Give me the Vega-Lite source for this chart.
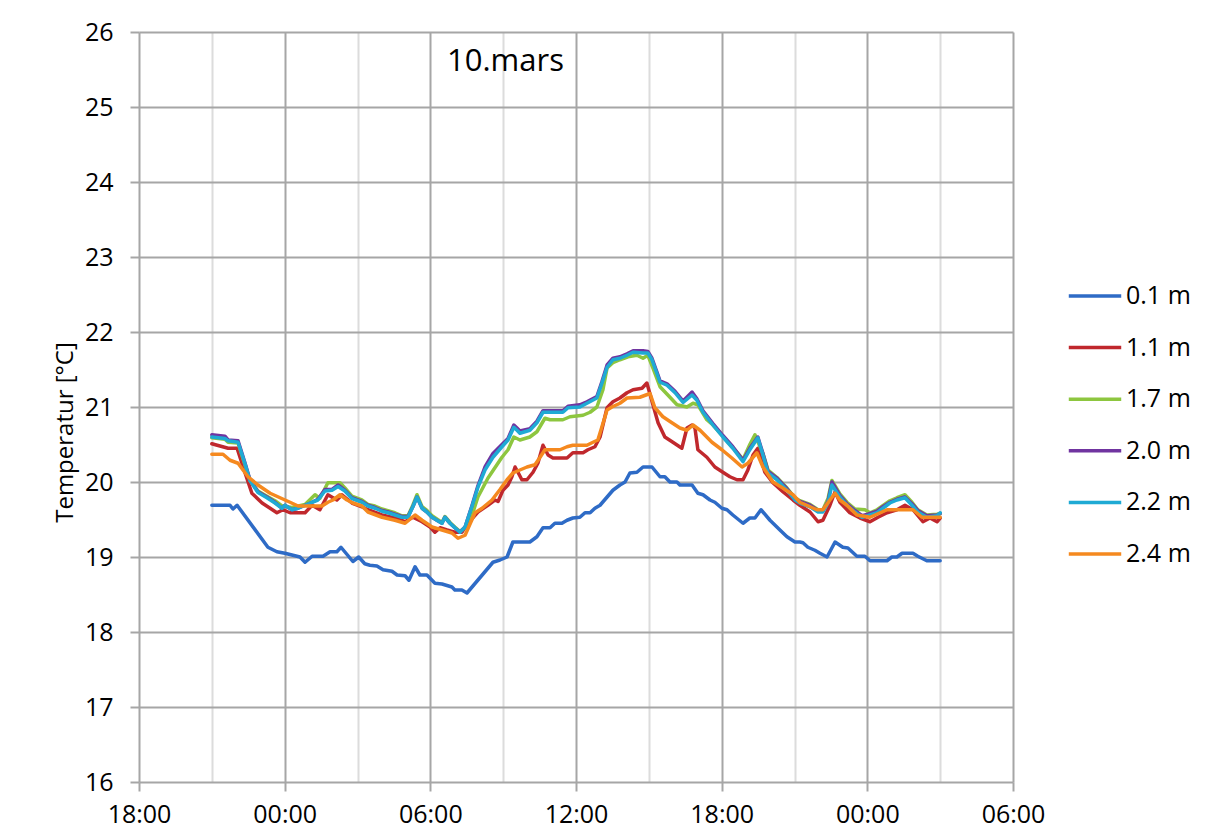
{
  "$schema": "https://vega.github.io/schema/vega-lite/v6.json",
  "width": 874,
  "height": 750,
  "autosize": {"type": "none"},
  "padding": {"left": 139, "top": 32, "right": 204, "bottom": 57},
  "background": "white",
  "config": {
    "font": "Open Sans",
    "view": {"stroke": null}
  },
  "title": {
    "text": "10.mars",
    "anchor": "start",
    "frame": "group",
    "offset": 0,
    "baseline": "alphabetic",
    "dx": 308,
    "dy": 82,
    "fontSize": 31,
    "fontWeight": "normal",
    "color": "black"
  },
  "datasets": {
    "temps": [
      {"depth": "0.1 m", "hour": 3.0, "temp": 19.69},
      {"depth": "0.1 m", "hour": 3.75, "temp": 19.69},
      {"depth": "0.1 m", "hour": 3.87, "temp": 19.64},
      {"depth": "0.1 m", "hour": 4.04, "temp": 19.69},
      {"depth": "0.1 m", "hour": 5.31, "temp": 19.13},
      {"depth": "0.1 m", "hour": 5.68, "temp": 19.07},
      {"depth": "0.1 m", "hour": 6.01, "temp": 19.05},
      {"depth": "0.1 m", "hour": 6.63, "temp": 19.0},
      {"depth": "0.1 m", "hour": 6.84, "temp": 18.93},
      {"depth": "0.1 m", "hour": 7.13, "temp": 19.01},
      {"depth": "0.1 m", "hour": 7.58, "temp": 19.01},
      {"depth": "0.1 m", "hour": 7.87, "temp": 19.07},
      {"depth": "0.1 m", "hour": 8.15, "temp": 19.07},
      {"depth": "0.1 m", "hour": 8.32, "temp": 19.13},
      {"depth": "0.1 m", "hour": 8.81, "temp": 18.94},
      {"depth": "0.1 m", "hour": 9.05, "temp": 19.0},
      {"depth": "0.1 m", "hour": 9.3, "temp": 18.91},
      {"depth": "0.1 m", "hour": 9.51, "temp": 18.89},
      {"depth": "0.1 m", "hour": 9.8, "temp": 18.88},
      {"depth": "0.1 m", "hour": 10.05, "temp": 18.83},
      {"depth": "0.1 m", "hour": 10.42, "temp": 18.81},
      {"depth": "0.1 m", "hour": 10.63, "temp": 18.76},
      {"depth": "0.1 m", "hour": 10.96, "temp": 18.75},
      {"depth": "0.1 m", "hour": 11.12, "temp": 18.69},
      {"depth": "0.1 m", "hour": 11.37, "temp": 18.87},
      {"depth": "0.1 m", "hour": 11.57, "temp": 18.76},
      {"depth": "0.1 m", "hour": 11.86, "temp": 18.76},
      {"depth": "0.1 m", "hour": 12.19, "temp": 18.65},
      {"depth": "0.1 m", "hour": 12.48, "temp": 18.64},
      {"depth": "0.1 m", "hour": 12.89, "temp": 18.6},
      {"depth": "0.1 m", "hour": 13.01, "temp": 18.56},
      {"depth": "0.1 m", "hour": 13.3, "temp": 18.56},
      {"depth": "0.1 m", "hour": 13.51, "temp": 18.52},
      {"depth": "0.1 m", "hour": 14.58, "temp": 18.93},
      {"depth": "0.1 m", "hour": 14.87, "temp": 18.96},
      {"depth": "0.1 m", "hour": 15.16, "temp": 19.0},
      {"depth": "0.1 m", "hour": 15.4, "temp": 19.2},
      {"depth": "0.1 m", "hour": 16.1, "temp": 19.2},
      {"depth": "0.1 m", "hour": 16.39, "temp": 19.27},
      {"depth": "0.1 m", "hour": 16.64, "temp": 19.39},
      {"depth": "0.1 m", "hour": 16.93, "temp": 19.39},
      {"depth": "0.1 m", "hour": 17.13, "temp": 19.45},
      {"depth": "0.1 m", "hour": 17.42, "temp": 19.45},
      {"depth": "0.1 m", "hour": 17.63, "temp": 19.49},
      {"depth": "0.1 m", "hour": 17.87, "temp": 19.52},
      {"depth": "0.1 m", "hour": 18.16, "temp": 19.53},
      {"depth": "0.1 m", "hour": 18.37, "temp": 19.59},
      {"depth": "0.1 m", "hour": 18.58, "temp": 19.59},
      {"depth": "0.1 m", "hour": 18.78, "temp": 19.65},
      {"depth": "0.1 m", "hour": 18.99, "temp": 19.69},
      {"depth": "0.1 m", "hour": 19.52, "temp": 19.89},
      {"depth": "0.1 m", "hour": 19.81, "temp": 19.96},
      {"depth": "0.1 m", "hour": 20.02, "temp": 20.0},
      {"depth": "0.1 m", "hour": 20.22, "temp": 20.12},
      {"depth": "0.1 m", "hour": 20.51, "temp": 20.13},
      {"depth": "0.1 m", "hour": 20.76, "temp": 20.2},
      {"depth": "0.1 m", "hour": 21.13, "temp": 20.2},
      {"depth": "0.1 m", "hour": 21.46, "temp": 20.07},
      {"depth": "0.1 m", "hour": 21.66, "temp": 20.07},
      {"depth": "0.1 m", "hour": 21.87, "temp": 20.0},
      {"depth": "0.1 m", "hour": 22.16, "temp": 20.0},
      {"depth": "0.1 m", "hour": 22.28, "temp": 19.96},
      {"depth": "0.1 m", "hour": 22.78, "temp": 19.96},
      {"depth": "0.1 m", "hour": 23.02, "temp": 19.85},
      {"depth": "0.1 m", "hour": 23.23, "temp": 19.83},
      {"depth": "0.1 m", "hour": 23.52, "temp": 19.76},
      {"depth": "0.1 m", "hour": 23.72, "temp": 19.73},
      {"depth": "0.1 m", "hour": 24.01, "temp": 19.65},
      {"depth": "0.1 m", "hour": 24.22, "temp": 19.63},
      {"depth": "0.1 m", "hour": 24.46, "temp": 19.56},
      {"depth": "0.1 m", "hour": 24.88, "temp": 19.45},
      {"depth": "0.1 m", "hour": 25.16, "temp": 19.52},
      {"depth": "0.1 m", "hour": 25.37, "temp": 19.52},
      {"depth": "0.1 m", "hour": 25.62, "temp": 19.63},
      {"depth": "0.1 m", "hour": 25.99, "temp": 19.49},
      {"depth": "0.1 m", "hour": 26.4, "temp": 19.36},
      {"depth": "0.1 m", "hour": 26.69, "temp": 19.27},
      {"depth": "0.1 m", "hour": 27.02, "temp": 19.2},
      {"depth": "0.1 m", "hour": 27.22, "temp": 19.2},
      {"depth": "0.1 m", "hour": 27.35, "temp": 19.19},
      {"depth": "0.1 m", "hour": 27.55, "temp": 19.13},
      {"depth": "0.1 m", "hour": 27.84, "temp": 19.09},
      {"depth": "0.1 m", "hour": 28.05, "temp": 19.05},
      {"depth": "0.1 m", "hour": 28.34, "temp": 19.0},
      {"depth": "0.1 m", "hour": 28.67, "temp": 19.2},
      {"depth": "0.1 m", "hour": 28.99, "temp": 19.13},
      {"depth": "0.1 m", "hour": 29.2, "temp": 19.12},
      {"depth": "0.1 m", "hour": 29.57, "temp": 19.01},
      {"depth": "0.1 m", "hour": 29.9, "temp": 19.01},
      {"depth": "0.1 m", "hour": 30.11, "temp": 18.95},
      {"depth": "0.1 m", "hour": 30.81, "temp": 18.95},
      {"depth": "0.1 m", "hour": 31.01, "temp": 19.0},
      {"depth": "0.1 m", "hour": 31.22, "temp": 19.0},
      {"depth": "0.1 m", "hour": 31.43, "temp": 19.05},
      {"depth": "0.1 m", "hour": 31.88, "temp": 19.05},
      {"depth": "0.1 m", "hour": 32.08, "temp": 19.01},
      {"depth": "0.1 m", "hour": 32.45, "temp": 18.95},
      {"depth": "0.1 m", "hour": 33.0, "temp": 18.95},

      {"depth": "1.1 m", "hour": 3.0, "temp": 20.51},
      {"depth": "1.1 m", "hour": 3.67, "temp": 20.45},
      {"depth": "1.1 m", "hour": 4.04, "temp": 20.45},
      {"depth": "1.1 m", "hour": 4.37, "temp": 20.12},
      {"depth": "1.1 m", "hour": 4.65, "temp": 19.85},
      {"depth": "1.1 m", "hour": 5.07, "temp": 19.72},
      {"depth": "1.1 m", "hour": 5.4, "temp": 19.65},
      {"depth": "1.1 m", "hour": 5.68, "temp": 19.59},
      {"depth": "1.1 m", "hour": 5.93, "temp": 19.63},
      {"depth": "1.1 m", "hour": 6.22, "temp": 19.59},
      {"depth": "1.1 m", "hour": 6.84, "temp": 19.59},
      {"depth": "1.1 m", "hour": 7.13, "temp": 19.69},
      {"depth": "1.1 m", "hour": 7.45, "temp": 19.63},
      {"depth": "1.1 m", "hour": 7.78, "temp": 19.83},
      {"depth": "1.1 m", "hour": 8.15, "temp": 19.76},
      {"depth": "1.1 m", "hour": 8.36, "temp": 19.83},
      {"depth": "1.1 m", "hour": 8.77, "temp": 19.72},
      {"depth": "1.1 m", "hour": 9.18, "temp": 19.67},
      {"depth": "1.1 m", "hour": 9.43, "temp": 19.63},
      {"depth": "1.1 m", "hour": 10.01, "temp": 19.56},
      {"depth": "1.1 m", "hour": 10.54, "temp": 19.52},
      {"depth": "1.1 m", "hour": 10.96, "temp": 19.47},
      {"depth": "1.1 m", "hour": 11.28, "temp": 19.53},
      {"depth": "1.1 m", "hour": 11.66, "temp": 19.47},
      {"depth": "1.1 m", "hour": 11.99, "temp": 19.4},
      {"depth": "1.1 m", "hour": 12.19, "temp": 19.33},
      {"depth": "1.1 m", "hour": 12.4, "temp": 19.39},
      {"depth": "1.1 m", "hour": 12.69, "temp": 19.36},
      {"depth": "1.1 m", "hour": 13.01, "temp": 19.33},
      {"depth": "1.1 m", "hour": 13.3, "temp": 19.33},
      {"depth": "1.1 m", "hour": 13.55, "temp": 19.45},
      {"depth": "1.1 m", "hour": 13.96, "temp": 19.6},
      {"depth": "1.1 m", "hour": 14.37, "temp": 19.69},
      {"depth": "1.1 m", "hour": 14.66, "temp": 19.76},
      {"depth": "1.1 m", "hour": 14.79, "temp": 19.74},
      {"depth": "1.1 m", "hour": 14.99, "temp": 19.89},
      {"depth": "1.1 m", "hour": 15.2, "temp": 19.96},
      {"depth": "1.1 m", "hour": 15.36, "temp": 20.07},
      {"depth": "1.1 m", "hour": 15.49, "temp": 20.2},
      {"depth": "1.1 m", "hour": 15.61, "temp": 20.13},
      {"depth": "1.1 m", "hour": 15.77, "temp": 20.03},
      {"depth": "1.1 m", "hour": 15.98, "temp": 20.03},
      {"depth": "1.1 m", "hour": 16.23, "temp": 20.13},
      {"depth": "1.1 m", "hour": 16.43, "temp": 20.25},
      {"depth": "1.1 m", "hour": 16.64, "temp": 20.49},
      {"depth": "1.1 m", "hour": 16.85, "temp": 20.36},
      {"depth": "1.1 m", "hour": 17.05, "temp": 20.32},
      {"depth": "1.1 m", "hour": 17.63, "temp": 20.32},
      {"depth": "1.1 m", "hour": 17.87, "temp": 20.39},
      {"depth": "1.1 m", "hour": 18.29, "temp": 20.39},
      {"depth": "1.1 m", "hour": 18.49, "temp": 20.43},
      {"depth": "1.1 m", "hour": 18.78, "temp": 20.47},
      {"depth": "1.1 m", "hour": 18.99, "temp": 20.6},
      {"depth": "1.1 m", "hour": 19.28, "temp": 20.99},
      {"depth": "1.1 m", "hour": 19.52, "temp": 21.07},
      {"depth": "1.1 m", "hour": 19.81, "temp": 21.12},
      {"depth": "1.1 m", "hour": 20.1, "temp": 21.19},
      {"depth": "1.1 m", "hour": 20.35, "temp": 21.23},
      {"depth": "1.1 m", "hour": 20.72, "temp": 21.25},
      {"depth": "1.1 m", "hour": 20.92, "temp": 21.32},
      {"depth": "1.1 m", "hour": 21.17, "temp": 21.03},
      {"depth": "1.1 m", "hour": 21.38, "temp": 20.79},
      {"depth": "1.1 m", "hour": 21.66, "temp": 20.6},
      {"depth": "1.1 m", "hour": 21.99, "temp": 20.53},
      {"depth": "1.1 m", "hour": 22.36, "temp": 20.45},
      {"depth": "1.1 m", "hour": 22.57, "temp": 20.72},
      {"depth": "1.1 m", "hour": 22.78, "temp": 20.76},
      {"depth": "1.1 m", "hour": 22.9, "temp": 20.72},
      {"depth": "1.1 m", "hour": 23.02, "temp": 20.43},
      {"depth": "1.1 m", "hour": 23.39, "temp": 20.33},
      {"depth": "1.1 m", "hour": 23.72, "temp": 20.2},
      {"depth": "1.1 m", "hour": 24.05, "temp": 20.13},
      {"depth": "1.1 m", "hour": 24.34, "temp": 20.07},
      {"depth": "1.1 m", "hour": 24.63, "temp": 20.03},
      {"depth": "1.1 m", "hour": 24.88, "temp": 20.03},
      {"depth": "1.1 m", "hour": 25.08, "temp": 20.16},
      {"depth": "1.1 m", "hour": 25.29, "temp": 20.36},
      {"depth": "1.1 m", "hour": 25.49, "temp": 20.45},
      {"depth": "1.1 m", "hour": 25.78, "temp": 20.13},
      {"depth": "1.1 m", "hour": 26.11, "temp": 19.99},
      {"depth": "1.1 m", "hour": 26.52, "temp": 19.87},
      {"depth": "1.1 m", "hour": 26.94, "temp": 19.76},
      {"depth": "1.1 m", "hour": 27.22, "temp": 19.69},
      {"depth": "1.1 m", "hour": 27.64, "temp": 19.6},
      {"depth": "1.1 m", "hour": 27.97, "temp": 19.47},
      {"depth": "1.1 m", "hour": 28.17, "temp": 19.49},
      {"depth": "1.1 m", "hour": 28.46, "temp": 19.69},
      {"depth": "1.1 m", "hour": 28.67, "temp": 19.87},
      {"depth": "1.1 m", "hour": 28.87, "temp": 19.73},
      {"depth": "1.1 m", "hour": 29.28, "temp": 19.59},
      {"depth": "1.1 m", "hour": 29.7, "temp": 19.52},
      {"depth": "1.1 m", "hour": 30.11, "temp": 19.47},
      {"depth": "1.1 m", "hour": 30.44, "temp": 19.53},
      {"depth": "1.1 m", "hour": 30.81, "temp": 19.59},
      {"depth": "1.1 m", "hour": 31.22, "temp": 19.63},
      {"depth": "1.1 m", "hour": 31.55, "temp": 19.69},
      {"depth": "1.1 m", "hour": 31.88, "temp": 19.63},
      {"depth": "1.1 m", "hour": 32.29, "temp": 19.47},
      {"depth": "1.1 m", "hour": 32.58, "temp": 19.52},
      {"depth": "1.1 m", "hour": 32.87, "temp": 19.47},
      {"depth": "1.1 m", "hour": 33.0, "temp": 19.52},

      {"depth": "1.7 m", "hour": 3.0, "temp": 20.59},
      {"depth": "1.7 m", "hour": 3.54, "temp": 20.57},
      {"depth": "1.7 m", "hour": 3.67, "temp": 20.53},
      {"depth": "1.7 m", "hour": 4.08, "temp": 20.52},
      {"depth": "1.7 m", "hour": 4.37, "temp": 20.22},
      {"depth": "1.7 m", "hour": 4.57, "temp": 20.02},
      {"depth": "1.7 m", "hour": 4.9, "temp": 19.88},
      {"depth": "1.7 m", "hour": 5.27, "temp": 19.81},
      {"depth": "1.7 m", "hour": 5.6, "temp": 19.75},
      {"depth": "1.7 m", "hour": 5.89, "temp": 19.68},
      {"depth": "1.7 m", "hour": 6.3, "temp": 19.66},
      {"depth": "1.7 m", "hour": 6.84, "temp": 19.7},
      {"depth": "1.7 m", "hour": 7.25, "temp": 19.83},
      {"depth": "1.7 m", "hour": 7.45, "temp": 19.78},
      {"depth": "1.7 m", "hour": 7.78, "temp": 19.99},
      {"depth": "1.7 m", "hour": 8.28, "temp": 19.99},
      {"depth": "1.7 m", "hour": 8.48, "temp": 19.92},
      {"depth": "1.7 m", "hour": 8.77, "temp": 19.81},
      {"depth": "1.7 m", "hour": 9.18, "temp": 19.76},
      {"depth": "1.7 m", "hour": 9.43, "temp": 19.7},
      {"depth": "1.7 m", "hour": 9.72, "temp": 19.68},
      {"depth": "1.7 m", "hour": 10.01, "temp": 19.64},
      {"depth": "1.7 m", "hour": 10.54, "temp": 19.59},
      {"depth": "1.7 m", "hour": 10.83, "temp": 19.55},
      {"depth": "1.7 m", "hour": 11.08, "temp": 19.55},
      {"depth": "1.7 m", "hour": 11.28, "temp": 19.69},
      {"depth": "1.7 m", "hour": 11.45, "temp": 19.83},
      {"depth": "1.7 m", "hour": 11.66, "temp": 19.67},
      {"depth": "1.7 m", "hour": 11.86, "temp": 19.62},
      {"depth": "1.7 m", "hour": 12.07, "temp": 19.55},
      {"depth": "1.7 m", "hour": 12.48, "temp": 19.46},
      {"depth": "1.7 m", "hour": 12.6, "temp": 19.54},
      {"depth": "1.7 m", "hour": 12.81, "temp": 19.46},
      {"depth": "1.7 m", "hour": 13.01, "temp": 19.4},
      {"depth": "1.7 m", "hour": 13.22, "temp": 19.34},
      {"depth": "1.7 m", "hour": 13.43, "temp": 19.39},
      {"depth": "1.7 m", "hour": 13.71, "temp": 19.55},
      {"depth": "1.7 m", "hour": 13.96, "temp": 19.8},
      {"depth": "1.7 m", "hour": 14.37, "temp": 20.05},
      {"depth": "1.7 m", "hour": 14.95, "temp": 20.33},
      {"depth": "1.7 m", "hour": 15.2, "temp": 20.43},
      {"depth": "1.7 m", "hour": 15.44, "temp": 20.6},
      {"depth": "1.7 m", "hour": 15.69, "temp": 20.56},
      {"depth": "1.7 m", "hour": 16.1, "temp": 20.6},
      {"depth": "1.7 m", "hour": 16.39, "temp": 20.67},
      {"depth": "1.7 m", "hour": 16.72, "temp": 20.85},
      {"depth": "1.7 m", "hour": 16.93, "temp": 20.83},
      {"depth": "1.7 m", "hour": 17.46, "temp": 20.83},
      {"depth": "1.7 m", "hour": 17.75, "temp": 20.87},
      {"depth": "1.7 m", "hour": 18.29, "temp": 20.89},
      {"depth": "1.7 m", "hour": 18.58, "temp": 20.93},
      {"depth": "1.7 m", "hour": 18.86, "temp": 21.0},
      {"depth": "1.7 m", "hour": 19.11, "temp": 21.23},
      {"depth": "1.7 m", "hour": 19.28, "temp": 21.52},
      {"depth": "1.7 m", "hour": 19.52, "temp": 21.59},
      {"depth": "1.7 m", "hour": 19.81, "temp": 21.63},
      {"depth": "1.7 m", "hour": 20.14, "temp": 21.67},
      {"depth": "1.7 m", "hour": 20.51, "temp": 21.69},
      {"depth": "1.7 m", "hour": 20.76, "temp": 21.65},
      {"depth": "1.7 m", "hour": 20.96, "temp": 21.69},
      {"depth": "1.7 m", "hour": 21.17, "temp": 21.52},
      {"depth": "1.7 m", "hour": 21.46, "temp": 21.27},
      {"depth": "1.7 m", "hour": 21.87, "temp": 21.13},
      {"depth": "1.7 m", "hour": 22.16, "temp": 21.03},
      {"depth": "1.7 m", "hour": 22.57, "temp": 21.0},
      {"depth": "1.7 m", "hour": 22.82, "temp": 21.05},
      {"depth": "1.7 m", "hour": 23.02, "temp": 21.03},
      {"depth": "1.7 m", "hour": 23.39, "temp": 20.83},
      {"depth": "1.7 m", "hour": 23.64, "temp": 20.76},
      {"depth": "1.7 m", "hour": 24.05, "temp": 20.61},
      {"depth": "1.7 m", "hour": 24.46, "temp": 20.46},
      {"depth": "1.7 m", "hour": 24.88, "temp": 20.3},
      {"depth": "1.7 m", "hour": 25.16, "temp": 20.5},
      {"depth": "1.7 m", "hour": 25.37, "temp": 20.63},
      {"depth": "1.7 m", "hour": 25.7, "temp": 20.38},
      {"depth": "1.7 m", "hour": 25.91, "temp": 20.16},
      {"depth": "1.7 m", "hour": 26.28, "temp": 20.06},
      {"depth": "1.7 m", "hour": 26.69, "temp": 19.92},
      {"depth": "1.7 m", "hour": 27.02, "temp": 19.79},
      {"depth": "1.7 m", "hour": 27.22, "temp": 19.75},
      {"depth": "1.7 m", "hour": 27.64, "temp": 19.7},
      {"depth": "1.7 m", "hour": 27.97, "temp": 19.63},
      {"depth": "1.7 m", "hour": 28.17, "temp": 19.63},
      {"depth": "1.7 m", "hour": 28.38, "temp": 19.78},
      {"depth": "1.7 m", "hour": 28.54, "temp": 20.02},
      {"depth": "1.7 m", "hour": 28.87, "temp": 19.84},
      {"depth": "1.7 m", "hour": 29.16, "temp": 19.73},
      {"depth": "1.7 m", "hour": 29.49, "temp": 19.64},
      {"depth": "1.7 m", "hour": 29.9, "temp": 19.63},
      {"depth": "1.7 m", "hour": 30.11, "temp": 19.59},
      {"depth": "1.7 m", "hour": 30.4, "temp": 19.63},
      {"depth": "1.7 m", "hour": 30.93, "temp": 19.75},
      {"depth": "1.7 m", "hour": 31.22, "temp": 19.79},
      {"depth": "1.7 m", "hour": 31.55, "temp": 19.83},
      {"depth": "1.7 m", "hour": 31.84, "temp": 19.73},
      {"depth": "1.7 m", "hour": 32.08, "temp": 19.63},
      {"depth": "1.7 m", "hour": 32.45, "temp": 19.56},
      {"depth": "1.7 m", "hour": 32.87, "temp": 19.57},
      {"depth": "1.7 m", "hour": 33.0, "temp": 19.58},

      {"depth": "2.0 m", "hour": 3.0, "temp": 20.63},
      {"depth": "2.0 m", "hour": 3.54, "temp": 20.61},
      {"depth": "2.0 m", "hour": 3.67, "temp": 20.56},
      {"depth": "2.0 m", "hour": 4.08, "temp": 20.55},
      {"depth": "2.0 m", "hour": 4.37, "temp": 20.25},
      {"depth": "2.0 m", "hour": 4.57, "temp": 20.03},
      {"depth": "2.0 m", "hour": 4.9, "temp": 19.87},
      {"depth": "2.0 m", "hour": 5.27, "temp": 19.8},
      {"depth": "2.0 m", "hour": 5.6, "temp": 19.73},
      {"depth": "2.0 m", "hour": 5.89, "temp": 19.65},
      {"depth": "2.0 m", "hour": 6.01, "temp": 19.69},
      {"depth": "2.0 m", "hour": 6.3, "temp": 19.63},
      {"depth": "2.0 m", "hour": 6.55, "temp": 19.65},
      {"depth": "2.0 m", "hour": 6.84, "temp": 19.69},
      {"depth": "2.0 m", "hour": 7.13, "temp": 19.73},
      {"depth": "2.0 m", "hour": 7.37, "temp": 19.77},
      {"depth": "2.0 m", "hour": 7.66, "temp": 19.9},
      {"depth": "2.0 m", "hour": 7.95, "temp": 19.9},
      {"depth": "2.0 m", "hour": 8.2, "temp": 19.96},
      {"depth": "2.0 m", "hour": 8.48, "temp": 19.89},
      {"depth": "2.0 m", "hour": 8.77, "temp": 19.79},
      {"depth": "2.0 m", "hour": 9.18, "temp": 19.74},
      {"depth": "2.0 m", "hour": 9.43, "temp": 19.69},
      {"depth": "2.0 m", "hour": 9.72, "temp": 19.66},
      {"depth": "2.0 m", "hour": 10.01, "temp": 19.62},
      {"depth": "2.0 m", "hour": 10.26, "temp": 19.6},
      {"depth": "2.0 m", "hour": 10.54, "temp": 19.57},
      {"depth": "2.0 m", "hour": 10.83, "temp": 19.54},
      {"depth": "2.0 m", "hour": 11.08, "temp": 19.54},
      {"depth": "2.0 m", "hour": 11.28, "temp": 19.67},
      {"depth": "2.0 m", "hour": 11.45, "temp": 19.8},
      {"depth": "2.0 m", "hour": 11.66, "temp": 19.65},
      {"depth": "2.0 m", "hour": 11.86, "temp": 19.6},
      {"depth": "2.0 m", "hour": 12.07, "temp": 19.53},
      {"depth": "2.0 m", "hour": 12.27, "temp": 19.49},
      {"depth": "2.0 m", "hour": 12.48, "temp": 19.45},
      {"depth": "2.0 m", "hour": 12.6, "temp": 19.53},
      {"depth": "2.0 m", "hour": 12.81, "temp": 19.45},
      {"depth": "2.0 m", "hour": 13.01, "temp": 19.39},
      {"depth": "2.0 m", "hour": 13.22, "temp": 19.33},
      {"depth": "2.0 m", "hour": 13.43, "temp": 19.4},
      {"depth": "2.0 m", "hour": 13.71, "temp": 19.68},
      {"depth": "2.0 m", "hour": 13.96, "temp": 19.95},
      {"depth": "2.0 m", "hour": 14.25, "temp": 20.2},
      {"depth": "2.0 m", "hour": 14.58, "temp": 20.38},
      {"depth": "2.0 m", "hour": 14.95, "temp": 20.5},
      {"depth": "2.0 m", "hour": 15.2, "temp": 20.58},
      {"depth": "2.0 m", "hour": 15.44, "temp": 20.76},
      {"depth": "2.0 m", "hour": 15.57, "temp": 20.72},
      {"depth": "2.0 m", "hour": 15.69, "temp": 20.68},
      {"depth": "2.0 m", "hour": 16.1, "temp": 20.71},
      {"depth": "2.0 m", "hour": 16.39, "temp": 20.81},
      {"depth": "2.0 m", "hour": 16.64, "temp": 20.95},
      {"depth": "2.0 m", "hour": 17.46, "temp": 20.95},
      {"depth": "2.0 m", "hour": 17.67, "temp": 21.01},
      {"depth": "2.0 m", "hour": 18.16, "temp": 21.03},
      {"depth": "2.0 m", "hour": 18.45, "temp": 21.07},
      {"depth": "2.0 m", "hour": 18.86, "temp": 21.14},
      {"depth": "2.0 m", "hour": 19.07, "temp": 21.34},
      {"depth": "2.0 m", "hour": 19.28, "temp": 21.56},
      {"depth": "2.0 m", "hour": 19.52, "temp": 21.65},
      {"depth": "2.0 m", "hour": 19.81, "temp": 21.67},
      {"depth": "2.0 m", "hour": 20.1, "temp": 21.71},
      {"depth": "2.0 m", "hour": 20.35, "temp": 21.75},
      {"depth": "2.0 m", "hour": 20.76, "temp": 21.75},
      {"depth": "2.0 m", "hour": 20.96, "temp": 21.74},
      {"depth": "2.0 m", "hour": 21.13, "temp": 21.65},
      {"depth": "2.0 m", "hour": 21.33, "temp": 21.47},
      {"depth": "2.0 m", "hour": 21.46, "temp": 21.35},
      {"depth": "2.0 m", "hour": 21.75, "temp": 21.31},
      {"depth": "2.0 m", "hour": 22.08, "temp": 21.21},
      {"depth": "2.0 m", "hour": 22.41, "temp": 21.08},
      {"depth": "2.0 m", "hour": 22.78, "temp": 21.2},
      {"depth": "2.0 m", "hour": 22.98, "temp": 21.11},
      {"depth": "2.0 m", "hour": 23.23, "temp": 20.95},
      {"depth": "2.0 m", "hour": 23.64, "temp": 20.78},
      {"depth": "2.0 m", "hour": 24.05, "temp": 20.62},
      {"depth": "2.0 m", "hour": 24.46, "temp": 20.47},
      {"depth": "2.0 m", "hour": 24.88, "temp": 20.29},
      {"depth": "2.0 m", "hour": 25.16, "temp": 20.45},
      {"depth": "2.0 m", "hour": 25.49, "temp": 20.6},
      {"depth": "2.0 m", "hour": 25.7, "temp": 20.38},
      {"depth": "2.0 m", "hour": 25.91, "temp": 20.14},
      {"depth": "2.0 m", "hour": 26.28, "temp": 20.05},
      {"depth": "2.0 m", "hour": 26.69, "temp": 19.91},
      {"depth": "2.0 m", "hour": 27.02, "temp": 19.78},
      {"depth": "2.0 m", "hour": 27.22, "temp": 19.74},
      {"depth": "2.0 m", "hour": 27.64, "temp": 19.69},
      {"depth": "2.0 m", "hour": 27.97, "temp": 19.62},
      {"depth": "2.0 m", "hour": 28.17, "temp": 19.62},
      {"depth": "2.0 m", "hour": 28.38, "temp": 19.74},
      {"depth": "2.0 m", "hour": 28.54, "temp": 20.0},
      {"depth": "2.0 m", "hour": 28.87, "temp": 19.82},
      {"depth": "2.0 m", "hour": 29.16, "temp": 19.71},
      {"depth": "2.0 m", "hour": 29.49, "temp": 19.62},
      {"depth": "2.0 m", "hour": 29.78, "temp": 19.55},
      {"depth": "2.0 m", "hour": 30.02, "temp": 19.57},
      {"depth": "2.0 m", "hour": 30.4, "temp": 19.61},
      {"depth": "2.0 m", "hour": 30.64, "temp": 19.67},
      {"depth": "2.0 m", "hour": 30.93, "temp": 19.73},
      {"depth": "2.0 m", "hour": 31.22, "temp": 19.77},
      {"depth": "2.0 m", "hour": 31.55, "temp": 19.8},
      {"depth": "2.0 m", "hour": 31.84, "temp": 19.71},
      {"depth": "2.0 m", "hour": 32.08, "temp": 19.62},
      {"depth": "2.0 m", "hour": 32.45, "temp": 19.55},
      {"depth": "2.0 m", "hour": 32.87, "temp": 19.56},
      {"depth": "2.0 m", "hour": 33.0, "temp": 19.58},

      {"depth": "2.2 m", "hour": 3.0, "temp": 20.6},
      {"depth": "2.2 m", "hour": 3.54, "temp": 20.58},
      {"depth": "2.2 m", "hour": 3.67, "temp": 20.55},
      {"depth": "2.2 m", "hour": 4.08, "temp": 20.53},
      {"depth": "2.2 m", "hour": 4.37, "temp": 20.24},
      {"depth": "2.2 m", "hour": 4.57, "temp": 20.02},
      {"depth": "2.2 m", "hour": 4.9, "temp": 19.86},
      {"depth": "2.2 m", "hour": 5.27, "temp": 19.79},
      {"depth": "2.2 m", "hour": 5.6, "temp": 19.72},
      {"depth": "2.2 m", "hour": 5.89, "temp": 19.65},
      {"depth": "2.2 m", "hour": 6.01, "temp": 19.69},
      {"depth": "2.2 m", "hour": 6.3, "temp": 19.63},
      {"depth": "2.2 m", "hour": 6.55, "temp": 19.65},
      {"depth": "2.2 m", "hour": 6.84, "temp": 19.69},
      {"depth": "2.2 m", "hour": 7.13, "temp": 19.73},
      {"depth": "2.2 m", "hour": 7.37, "temp": 19.76},
      {"depth": "2.2 m", "hour": 7.66, "temp": 19.88},
      {"depth": "2.2 m", "hour": 7.95, "temp": 19.89},
      {"depth": "2.2 m", "hour": 8.2, "temp": 19.94},
      {"depth": "2.2 m", "hour": 8.48, "temp": 19.88},
      {"depth": "2.2 m", "hour": 8.77, "temp": 19.78},
      {"depth": "2.2 m", "hour": 9.18, "temp": 19.73},
      {"depth": "2.2 m", "hour": 9.43, "temp": 19.68},
      {"depth": "2.2 m", "hour": 9.72, "temp": 19.65},
      {"depth": "2.2 m", "hour": 10.01, "temp": 19.61},
      {"depth": "2.2 m", "hour": 10.26, "temp": 19.59},
      {"depth": "2.2 m", "hour": 10.54, "temp": 19.56},
      {"depth": "2.2 m", "hour": 10.83, "temp": 19.53},
      {"depth": "2.2 m", "hour": 11.08, "temp": 19.53},
      {"depth": "2.2 m", "hour": 11.28, "temp": 19.67},
      {"depth": "2.2 m", "hour": 11.45, "temp": 19.8},
      {"depth": "2.2 m", "hour": 11.66, "temp": 19.65},
      {"depth": "2.2 m", "hour": 11.86, "temp": 19.6},
      {"depth": "2.2 m", "hour": 12.07, "temp": 19.53},
      {"depth": "2.2 m", "hour": 12.27, "temp": 19.49},
      {"depth": "2.2 m", "hour": 12.48, "temp": 19.45},
      {"depth": "2.2 m", "hour": 12.6, "temp": 19.53},
      {"depth": "2.2 m", "hour": 12.81, "temp": 19.45},
      {"depth": "2.2 m", "hour": 13.01, "temp": 19.39},
      {"depth": "2.2 m", "hour": 13.22, "temp": 19.33},
      {"depth": "2.2 m", "hour": 13.43, "temp": 19.4},
      {"depth": "2.2 m", "hour": 13.71, "temp": 19.67},
      {"depth": "2.2 m", "hour": 13.96, "temp": 19.93},
      {"depth": "2.2 m", "hour": 14.25, "temp": 20.16},
      {"depth": "2.2 m", "hour": 14.58, "temp": 20.33},
      {"depth": "2.2 m", "hour": 14.95, "temp": 20.47},
      {"depth": "2.2 m", "hour": 15.2, "temp": 20.56},
      {"depth": "2.2 m", "hour": 15.44, "temp": 20.73},
      {"depth": "2.2 m", "hour": 15.57, "temp": 20.69},
      {"depth": "2.2 m", "hour": 15.69, "temp": 20.65},
      {"depth": "2.2 m", "hour": 16.1, "temp": 20.69},
      {"depth": "2.2 m", "hour": 16.39, "temp": 20.79},
      {"depth": "2.2 m", "hour": 16.64, "temp": 20.93},
      {"depth": "2.2 m", "hour": 17.46, "temp": 20.93},
      {"depth": "2.2 m", "hour": 17.67, "temp": 20.99},
      {"depth": "2.2 m", "hour": 18.16, "temp": 21.0},
      {"depth": "2.2 m", "hour": 18.45, "temp": 21.05},
      {"depth": "2.2 m", "hour": 18.86, "temp": 21.12},
      {"depth": "2.2 m", "hour": 19.07, "temp": 21.32},
      {"depth": "2.2 m", "hour": 19.28, "temp": 21.53},
      {"depth": "2.2 m", "hour": 19.52, "temp": 21.63},
      {"depth": "2.2 m", "hour": 19.81, "temp": 21.65},
      {"depth": "2.2 m", "hour": 20.1, "temp": 21.69},
      {"depth": "2.2 m", "hour": 20.35, "temp": 21.73},
      {"depth": "2.2 m", "hour": 20.76, "temp": 21.72},
      {"depth": "2.2 m", "hour": 20.96, "temp": 21.72},
      {"depth": "2.2 m", "hour": 21.13, "temp": 21.63},
      {"depth": "2.2 m", "hour": 21.33, "temp": 21.45},
      {"depth": "2.2 m", "hour": 21.46, "temp": 21.33},
      {"depth": "2.2 m", "hour": 21.75, "temp": 21.29},
      {"depth": "2.2 m", "hour": 22.08, "temp": 21.19},
      {"depth": "2.2 m", "hour": 22.41, "temp": 21.06},
      {"depth": "2.2 m", "hour": 22.78, "temp": 21.16},
      {"depth": "2.2 m", "hour": 22.98, "temp": 21.09},
      {"depth": "2.2 m", "hour": 23.23, "temp": 20.93},
      {"depth": "2.2 m", "hour": 23.64, "temp": 20.76},
      {"depth": "2.2 m", "hour": 24.05, "temp": 20.6},
      {"depth": "2.2 m", "hour": 24.46, "temp": 20.45},
      {"depth": "2.2 m", "hour": 24.88, "temp": 20.27},
      {"depth": "2.2 m", "hour": 25.16, "temp": 20.43},
      {"depth": "2.2 m", "hour": 25.49, "temp": 20.59},
      {"depth": "2.2 m", "hour": 25.7, "temp": 20.36},
      {"depth": "2.2 m", "hour": 25.91, "temp": 20.12},
      {"depth": "2.2 m", "hour": 26.28, "temp": 20.03},
      {"depth": "2.2 m", "hour": 26.69, "temp": 19.89},
      {"depth": "2.2 m", "hour": 27.02, "temp": 19.76},
      {"depth": "2.2 m", "hour": 27.22, "temp": 19.72},
      {"depth": "2.2 m", "hour": 27.64, "temp": 19.67},
      {"depth": "2.2 m", "hour": 27.97, "temp": 19.6},
      {"depth": "2.2 m", "hour": 28.17, "temp": 19.6},
      {"depth": "2.2 m", "hour": 28.38, "temp": 19.72},
      {"depth": "2.2 m", "hour": 28.54, "temp": 19.96},
      {"depth": "2.2 m", "hour": 28.87, "temp": 19.8},
      {"depth": "2.2 m", "hour": 29.16, "temp": 19.69},
      {"depth": "2.2 m", "hour": 29.49, "temp": 19.6},
      {"depth": "2.2 m", "hour": 29.78, "temp": 19.53},
      {"depth": "2.2 m", "hour": 30.02, "temp": 19.55},
      {"depth": "2.2 m", "hour": 30.4, "temp": 19.59},
      {"depth": "2.2 m", "hour": 30.64, "temp": 19.65},
      {"depth": "2.2 m", "hour": 30.93, "temp": 19.72},
      {"depth": "2.2 m", "hour": 31.22, "temp": 19.76},
      {"depth": "2.2 m", "hour": 31.55, "temp": 19.79},
      {"depth": "2.2 m", "hour": 31.84, "temp": 19.69},
      {"depth": "2.2 m", "hour": 32.08, "temp": 19.6},
      {"depth": "2.2 m", "hour": 32.45, "temp": 19.53},
      {"depth": "2.2 m", "hour": 32.87, "temp": 19.55},
      {"depth": "2.2 m", "hour": 33.0, "temp": 19.59},

      {"depth": "2.4 m", "hour": 3.0, "temp": 20.37},
      {"depth": "2.4 m", "hour": 3.46, "temp": 20.37},
      {"depth": "2.4 m", "hour": 3.75, "temp": 20.29},
      {"depth": "2.4 m", "hour": 4.08, "temp": 20.25},
      {"depth": "2.4 m", "hour": 4.49, "temp": 20.07},
      {"depth": "2.4 m", "hour": 4.9, "temp": 19.96},
      {"depth": "2.4 m", "hour": 5.4, "temp": 19.85},
      {"depth": "2.4 m", "hour": 5.81, "temp": 19.79},
      {"depth": "2.4 m", "hour": 6.22, "temp": 19.73},
      {"depth": "2.4 m", "hour": 6.55, "temp": 19.68},
      {"depth": "2.4 m", "hour": 7.54, "temp": 19.68},
      {"depth": "2.4 m", "hour": 7.78, "temp": 19.73},
      {"depth": "2.4 m", "hour": 7.99, "temp": 19.76},
      {"depth": "2.4 m", "hour": 8.28, "temp": 19.83},
      {"depth": "2.4 m", "hour": 8.57, "temp": 19.76},
      {"depth": "2.4 m", "hour": 8.81, "temp": 19.72},
      {"depth": "2.4 m", "hour": 9.18, "temp": 19.68},
      {"depth": "2.4 m", "hour": 9.43, "temp": 19.6},
      {"depth": "2.4 m", "hour": 10.01, "temp": 19.53},
      {"depth": "2.4 m", "hour": 10.54, "temp": 19.49},
      {"depth": "2.4 m", "hour": 10.96, "temp": 19.45},
      {"depth": "2.4 m", "hour": 11.37, "temp": 19.56},
      {"depth": "2.4 m", "hour": 11.66, "temp": 19.49},
      {"depth": "2.4 m", "hour": 12.07, "temp": 19.4},
      {"depth": "2.4 m", "hour": 12.48, "temp": 19.36},
      {"depth": "2.4 m", "hour": 12.89, "temp": 19.32},
      {"depth": "2.4 m", "hour": 13.14, "temp": 19.25},
      {"depth": "2.4 m", "hour": 13.43, "temp": 19.29},
      {"depth": "2.4 m", "hour": 13.84, "temp": 19.59},
      {"depth": "2.4 m", "hour": 14.13, "temp": 19.65},
      {"depth": "2.4 m", "hour": 14.54, "temp": 19.76},
      {"depth": "2.4 m", "hour": 14.87, "temp": 19.9},
      {"depth": "2.4 m", "hour": 15.16, "temp": 20.03},
      {"depth": "2.4 m", "hour": 15.4, "temp": 20.12},
      {"depth": "2.4 m", "hour": 15.69, "temp": 20.16},
      {"depth": "2.4 m", "hour": 15.98, "temp": 20.2},
      {"depth": "2.4 m", "hour": 16.31, "temp": 20.23},
      {"depth": "2.4 m", "hour": 16.52, "temp": 20.33},
      {"depth": "2.4 m", "hour": 16.72, "temp": 20.43},
      {"depth": "2.4 m", "hour": 17.34, "temp": 20.43},
      {"depth": "2.4 m", "hour": 17.63, "temp": 20.47},
      {"depth": "2.4 m", "hour": 17.87, "temp": 20.49},
      {"depth": "2.4 m", "hour": 18.45, "temp": 20.49},
      {"depth": "2.4 m", "hour": 18.7, "temp": 20.53},
      {"depth": "2.4 m", "hour": 18.9, "temp": 20.56},
      {"depth": "2.4 m", "hour": 19.28, "temp": 20.96},
      {"depth": "2.4 m", "hour": 19.48, "temp": 21.0},
      {"depth": "2.4 m", "hour": 19.81, "temp": 21.05},
      {"depth": "2.4 m", "hour": 20.1, "temp": 21.12},
      {"depth": "2.4 m", "hour": 20.63, "temp": 21.13},
      {"depth": "2.4 m", "hour": 21.05, "temp": 21.18},
      {"depth": "2.4 m", "hour": 21.25, "temp": 20.99},
      {"depth": "2.4 m", "hour": 21.58, "temp": 20.87},
      {"depth": "2.4 m", "hour": 21.95, "temp": 20.79},
      {"depth": "2.4 m", "hour": 22.28, "temp": 20.72},
      {"depth": "2.4 m", "hour": 22.57, "temp": 20.69},
      {"depth": "2.4 m", "hour": 22.82, "temp": 20.76},
      {"depth": "2.4 m", "hour": 23.11, "temp": 20.69},
      {"depth": "2.4 m", "hour": 23.6, "temp": 20.53},
      {"depth": "2.4 m", "hour": 24.01, "temp": 20.43},
      {"depth": "2.4 m", "hour": 24.42, "temp": 20.32},
      {"depth": "2.4 m", "hour": 24.84, "temp": 20.2},
      {"depth": "2.4 m", "hour": 25.08, "temp": 20.25},
      {"depth": "2.4 m", "hour": 25.45, "temp": 20.39},
      {"depth": "2.4 m", "hour": 25.7, "temp": 20.2},
      {"depth": "2.4 m", "hour": 26.11, "temp": 20.0},
      {"depth": "2.4 m", "hour": 26.52, "temp": 19.92},
      {"depth": "2.4 m", "hour": 26.94, "temp": 19.83},
      {"depth": "2.4 m", "hour": 27.22, "temp": 19.73},
      {"depth": "2.4 m", "hour": 27.64, "temp": 19.67},
      {"depth": "2.4 m", "hour": 27.92, "temp": 19.63},
      {"depth": "2.4 m", "hour": 28.17, "temp": 19.63},
      {"depth": "2.4 m", "hour": 28.46, "temp": 19.76},
      {"depth": "2.4 m", "hour": 28.67, "temp": 19.85},
      {"depth": "2.4 m", "hour": 28.87, "temp": 19.76},
      {"depth": "2.4 m", "hour": 29.16, "temp": 19.69},
      {"depth": "2.4 m", "hour": 29.57, "temp": 19.56},
      {"depth": "2.4 m", "hour": 30.11, "temp": 19.53},
      {"depth": "2.4 m", "hour": 30.81, "temp": 19.63},
      {"depth": "2.4 m", "hour": 31.88, "temp": 19.63},
      {"depth": "2.4 m", "hour": 32.25, "temp": 19.53},
      {"depth": "2.4 m", "hour": 33.0, "temp": 19.53}
    ]
  },
  "data": {"name": "temps"},
  "mark": {"type": "line", "strokeWidth": 3.5, "strokeJoin": "round", "strokeCap": "round"},
  "encoding": {
    "x": {
      "field": "hour",
      "type": "quantitative",
      "scale": {"domain": [0, 36], "nice": false, "zero": false},
      "axis": {
        "title": null,
        "values": [0, 3, 6, 9, 12, 15, 18, 21, 24, 27, 30, 33, 36],
        "labelExpr": "datum.value % 6 === 0 ? (((datum.value + 18) % 24) < 10 ? '0' : '') + ((datum.value + 18) % 24) + ':00' : ''",
        "labelFontSize": 25,
        "labelColor": "black",
        "labelPadding": 11,
        "labelFlush": false,
        "labelOverlap": false,
        "labelBound": false,
        "tickSize": 9,
        "tickWidth": 2,
        "tickColor": {"condition": {"test": "datum.value % 6 === 0", "value": "#a6a6a6"}, "value": "transparent"},
        "grid": true,
        "gridWidth": 2,
        "gridColor": {"condition": {"test": "datum.value % 6 === 0", "value": "#a6a6a6"}, "value": "#dcdcdc"},
        "domain": false
      }
    },
    "y": {
      "field": "temp",
      "type": "quantitative",
      "scale": {"domain": [16, 26], "nice": false, "zero": false},
      "axis": {
        "title": "Temperatur [°C]",
        "titleFontSize": 24,
        "titleFontWeight": "normal",
        "titleColor": "black",
        "titlePadding": 7,
        "titleY": 400,
        "values": [16, 17, 18, 19, 20, 21, 22, 23, 24, 25, 26],
        "labelFontSize": 25,
        "labelColor": "black",
        "labelPadding": 17,
        "tickSize": 9,
        "tickWidth": 2,
        "tickColor": "#a6a6a6",
        "grid": true,
        "gridWidth": 2,
        "gridColor": "#a6a6a6",
        "domain": false
      }
    },
    "color": {
      "field": "depth",
      "type": "nominal",
      "scale": {
        "domain": ["0.1 m", "1.1 m", "1.7 m", "2.0 m", "2.2 m", "2.4 m"],
        "range": ["#2E6BC6", "#C0282D", "#8DC63F", "#7034A0", "#1FAAD4", "#F5891F"]
      },
      "legend": {
        "title": null,
        "orient": "none",
        "legendX": 928,
        "legendY": 236,
        "symbolType": "stroke",
        "symbolSize": 2750,
        "symbolStrokeWidth": 3.5,
        "labelFontSize": 25,
        "labelColor": "black",
        "labelOffset": 3,
        "rowPadding": 10.6
      }
    }
  }
}
